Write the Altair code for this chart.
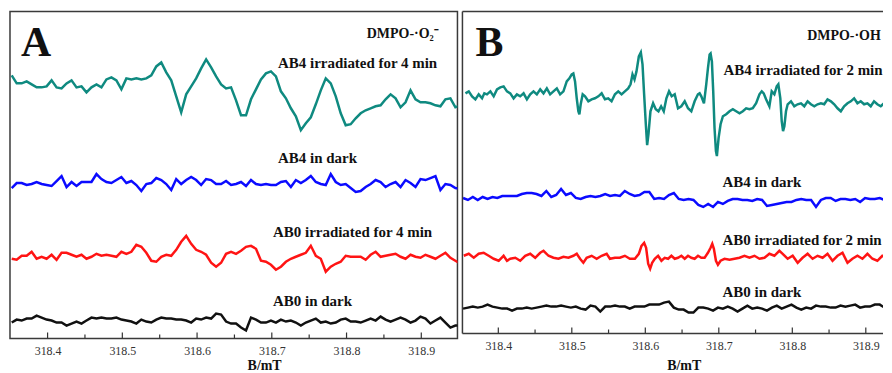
import altair as alt
import pandas as pd

# ---------------- sweep (magnetic field, mT) ----------------
FIELD_START = 318.352
FIELD_STEP = 0.00667

MAJOR_TICKS = [318.4, 318.5, 318.6, 318.7, 318.8, 318.9]
MINOR_TICKS = [318.45, 318.55, 318.65, 318.75, 318.85, 318.95]

TRACES = ["irradiated AB4", "AB4 dark", "irradiated AB0", "AB0 dark"]
TRACE_COLORS = ["#0f8a80", "#0b0bff", "#ff1414", "#111111"]

# ---------------- Panel A : DMPO-·O2- (intensity, a.u.) ----------------
A_AB4_IRR = [264, 256, 256, 258, 255, 252, 252, 253, 259, 252,
             251, 256, 259, 252, 253, 247, 252, 255, 252, 260,
             262, 259, 250, 261, 260, 261, 260, 261, 264, 273,
             277, 267, 259, 243, 227, 245, 253, 261, 271, 280,
             272, 263, 255, 251, 252, 239, 224, 224, 240, 250,
             260, 266, 268, 263, 248, 241, 231, 223, 209, 216,
             222, 235, 249, 261, 256, 243, 226, 214, 215, 221,
             226, 229, 231, 233, 234, 240, 245, 241, 232, 237,
             249, 240, 237, 237, 236, 234, 233, 240, 241, 232, 234]
A_AB4_DARK = [151, 156, 156, 154, 155, 157, 155, 154, 153, 158,
              163, 152, 157, 153, 157, 157, 157, 165, 160, 157,
              156, 159, 162, 156, 158, 154, 148, 155, 156, 161,
              159, 155, 149, 160, 155, 159, 162, 159, 154, 160,
              159, 155, 155, 158, 154, 155, 157, 153, 159, 155,
              154, 155, 154, 154, 157, 158, 152, 159, 156, 159,
              163, 157, 155, 154, 165, 157, 154, 155, 151, 147,
              148, 152, 155, 159, 157, 152, 155, 157, 152, 159,
              156, 152, 160, 159, 161, 163, 149, 155, 154, 151, 150]
A_AB0_IRR = [80, 79, 83, 83, 87, 80, 82, 80, 84, 79,
             86, 86, 84, 82, 84, 80, 82, 85, 83, 84,
             83, 82, 87, 85, 87, 94, 92, 86, 78, 77,
             82, 84, 83, 89, 97, 103, 95, 89, 87, 84,
             76, 72, 76, 85, 87, 85, 88, 92, 93, 90,
             78, 77, 74, 69, 72, 77, 80, 82, 84, 86,
             93, 83, 80, 67, 72, 75, 77, 83, 82, 82,
             82, 79, 84, 87, 82, 83, 84, 85, 82, 80,
             84, 82, 81, 84, 82, 80, 83, 86, 81, 78, 75]
A_AB0_DARK = [16, 19, 18, 20, 20, 23, 21, 19, 18, 16,
              16, 13, 15, 17, 15, 18, 21, 20, 21, 20,
              20, 21, 19, 18, 17, 15, 19, 17, 16, 19,
              21, 20, 20, 19, 19, 18, 16, 20, 19, 21,
              20, 25, 24, 17, 15, 15, 11, 8, 21, 19,
              16, 16, 18, 16, 19, 17, 18, 16, 13, 16,
              18, 20, 16, 17, 15, 16, 19, 20, 17, 17,
              16, 18, 20, 18, 22, 19, 17, 19, 21, 19,
              16, 18, 22, 20, 15, 18, 21, 16, 11, 13, 13]

# ---------------- Panel B : DMPO-·OH ----------------
B_AB4_IRR_FIELD = [
    318.3553, 318.3598, 318.3643, 318.3688, 318.3733, 318.3779, 318.3810, 318.3846, 318.3892, 318.3937,
    318.3982, 318.4027, 318.4072, 318.4118, 318.4163, 318.4208, 318.4253, 318.4298, 318.4344, 318.4389,
    318.4434, 318.4479, 318.4524, 318.4570, 318.4615, 318.4660, 318.4705, 318.4750, 318.4796, 318.4841, 318.4886,
    318.4931, 318.4967, 318.4999, 318.5021, 318.5044, 318.5067, 318.5089, 318.5103, 318.5121, 318.5148,
    318.5180, 318.5225, 318.5270, 318.5315, 318.5361, 318.5406, 318.5451, 318.5496, 318.5541, 318.5587,
    318.5632, 318.5677, 318.5722, 318.5767, 318.5799, 318.5826, 318.5853, 318.5880, 318.5912, 318.5939,
    318.5962, 318.5984, 318.6007, 318.6025, 318.6043, 318.6070, 318.6106, 318.6142, 318.6179, 318.6215,
    318.6251, 318.6287, 318.6323, 318.6359, 318.6400, 318.6445,
    318.6490, 318.6536, 318.6581, 318.6626, 318.6671, 318.6716, 318.6739, 318.6762, 318.6798, 318.6829,
    318.6852, 318.6875, 318.6888, 318.6906, 318.6924, 318.6942, 318.6961, 318.6974, 318.6997, 318.7024,
    318.7056, 318.7101, 318.7146, 318.7191, 318.7236, 318.7282, 318.7327, 318.7372, 318.7417, 318.7462,
    318.7508, 318.7553, 318.7584, 318.7611, 318.7643, 318.7688, 318.7720, 318.7756, 318.7788, 318.7810,
    318.7837, 318.7856, 318.7874, 318.7892, 318.7914, 318.7937, 318.7982, 318.8027, 318.8072, 318.8118,
    318.8163, 318.8208, 318.8253, 318.8299, 318.8344, 318.8389, 318.8434, 318.8479, 318.8525, 318.8570,
    318.8615, 318.8660, 318.8705, 318.8751, 318.8796, 318.8841, 318.8886, 318.8931, 318.8977, 318.9022,
    318.9067, 318.9112, 318.9157, 318.9203, 318.9248, 318.9293, 318.9338]
B_AB4_IRR = [
    241, 243, 238, 235, 240, 236, 241, 240, 243, 238,
    245, 247, 248, 243, 241, 236, 240, 238, 241, 235,
    240, 243, 240, 245, 241, 246, 240, 243, 246, 240, 243,
    253, 256, 260, 261, 253, 236, 223, 220, 230, 240,
    238, 233, 235, 236, 238, 241, 235, 236, 233, 240,
    243, 240, 243, 246, 250, 260, 255, 263, 278, 282,
    270, 240, 210, 189, 200, 223, 231, 225, 223, 228,
    223, 236, 243, 238, 240, 226,
    228, 233, 226, 223, 233, 240, 241, 238, 231, 250,
    266, 280, 281, 273, 243, 206, 183, 178, 196, 210,
    218, 220, 223, 225, 223, 221, 223, 226, 225, 226,
    231, 240, 243, 241, 235, 228, 243, 240, 248, 250,
    236, 213, 203, 208, 223, 230, 233, 228, 230, 231,
    228, 233, 230, 228, 230, 231, 230, 235, 233, 230,
    226, 223, 228, 231, 233, 236, 231, 233, 230, 231,
    228, 233, 230, 228, 231, 230, 228]
B_AB4_DARK = [136, 134, 137, 134, 137, 135, 137, 136, 138, 138,
              138, 138, 140, 141, 141, 140, 138, 143, 137, 139,
              145, 139, 141, 136, 135, 137, 138, 137, 138, 140,
              138, 139, 138, 143, 140, 138, 139, 142, 142, 135,
              136, 135, 139, 141, 135, 134, 135, 134, 129, 127,
              130, 127, 132, 130, 133, 135, 135, 134, 134, 133,
              135, 134, 128, 129, 130, 131, 132, 132, 134, 135,
              134, 134, 127, 134, 136, 136, 133, 135, 135, 134,
              135, 132, 136, 135, 135, 136, 134, 130]
B_AB0_IRR_FIELD = [
    318.3530, 318.3598, 318.3666, 318.3733, 318.3801, 318.3869, 318.3937, 318.4005, 318.4072, 318.4118,
    318.4163, 318.4231, 318.4298, 318.4366, 318.4434, 318.4502, 318.4570, 318.4615, 318.4683, 318.4750,
    318.4818, 318.4886, 318.4954, 318.5021, 318.5067, 318.5112, 318.5157, 318.5202, 318.5270, 318.5338,
    318.5406, 318.5474, 318.5519, 318.5587, 318.5654, 318.5722, 318.5790, 318.5858, 318.5912, 318.5948,
    318.5984, 318.6011, 318.6039, 318.6066, 318.6093, 318.6129, 318.6174, 318.6219, 318.6264, 318.6310,
    318.6355, 318.6400, 318.6445, 318.6491, 318.6536, 318.6581, 318.6626, 318.6671, 318.6717, 318.6762,
    318.6807, 318.6852, 318.6888, 318.6911, 318.6933, 318.6961, 318.6988, 318.7024, 318.7078, 318.7146,
    318.7214, 318.7282, 318.7349, 318.7417, 318.7485, 318.7553, 318.7621, 318.7688, 318.7756, 318.7824,
    318.7869, 318.7937, 318.8005, 318.8073, 318.8140, 318.8208, 318.8276, 318.8344, 318.8412, 318.8479,
    318.8547, 318.8615, 318.8683, 318.8751, 318.8818, 318.8886, 318.8954, 318.9022, 318.9090, 318.9157,
    318.9225, 318.9293]
B_AB0_IRR = [78, 80, 76, 80, 81, 78, 75, 73, 78, 73,
             75, 76, 73, 78, 80, 76, 81, 83, 78, 76,
             75, 77, 76, 78, 80, 75, 71, 76, 78, 75,
             78, 80, 75, 76, 76, 78, 75, 75, 80, 88,
             91, 86, 70, 65, 71, 75, 78, 73, 76, 75,
             78, 75, 76, 78, 75, 78, 76, 75, 78, 76,
             76, 81, 86, 90, 85, 73, 69, 73, 75, 74,
             75, 76, 78, 76, 78, 75, 76, 80, 78, 83,
             80, 75, 78, 71, 76, 80, 75, 78, 76, 80,
             73, 78, 81, 71, 75, 78, 75, 80, 75, 73,
             78, 76]
B_AB0_DARK = [25, 26, 27, 26, 27, 29, 27, 26, 25, 25,
              23, 25, 25, 26, 25, 26, 27, 28, 27, 27,
              28, 27, 26, 27, 25, 24, 28, 27, 22, 27,
              27, 28, 27, 27, 25, 27, 27, 27, 29, 29,
              29, 31, 32, 26, 24, 24, 21, 21, 26, 26,
              25, 23, 26, 25, 27, 25, 22, 25, 28, 25,
              26, 25, 23, 26, 28, 25, 27, 29, 26, 24,
              26, 25, 28, 27, 27, 26, 26, 28, 27, 28,
              29, 26, 27, 27, 29, 29, 26, 22]

# ---------------- annotations ----------------
A_LABELS = ["A", "DMPO-·O₂⁻", "AB4 irradiated for 4 min", "AB4 in dark",
            "AB0 irradiated for 4 min", "AB0 in dark"]
A_LABEL_FIELD = [318.3644, 318.8271, 318.7084, 318.7084, 318.7017, 318.7017]
A_LABEL_Y = [283, 302, 271, 176, 102, 33]
B_LABELS = ["B", "DMPO-·OH", "AB4 irradiated for 2 min", "AB4 in dark",
            "AB0 irradiated for 2 min", "AB0 in dark"]
B_LABEL_FIELD = [318.3688, 318.8203, 318.7064, 318.7051, 318.7051, 318.7051]
B_LABEL_Y = [278, 295, 259, 147, 89, 37]
LABEL_SIZE = [42, 14, 15, 15, 15, 15]

FONT = "Liberation Serif"
FRAME = "#3a3a3a"


def grid(n):
    return [round(FIELD_START + FIELD_STEP * i, 5) for i in range(n)]


def long_df(series):
    rows = []
    for name, fields, vals in series:
        assert len(fields) == len(vals), (name, len(fields), len(vals))
        for f, v in zip(fields, vals):
            rows.append({"field": f, "intensity": v, "trace": name})
    return pd.DataFrame(rows)


def panel(df, labels, lab_field, lab_y, domain, ymax, width, height, title_x, title_y,
          open_right):
    xaxis = alt.Axis(values=MAJOR_TICKS, format=".1f", ticks=False, tickSize=0,
                     domain=False, grid=False, labelFont=FONT, labelFontSize=12,
                     labelColor="#333333", labelPadding=7, labelFlush=False,
                     title="B/mT", titleFont=FONT, titleFontSize=14,
                     titleFontWeight="bold", titleColor="#111111",
                     titleX=title_x, titleY=title_y, titleAlign="center",
                     titleBaseline="top")
    xs = alt.Scale(domain=domain, nice=False, zero=False)
    ys = alt.Scale(domain=[0, ymax], nice=False, zero=False)
    X = alt.X("field:Q", scale=xs, axis=xaxis, title="B/mT")

    lines = alt.Chart(df).mark_line(strokeWidth=2.5, clip=True).encode(
        x=X,
        y=alt.Y("intensity:Q", scale=ys, axis=None),
        color=alt.Color("trace:N", scale=alt.Scale(domain=TRACES, range=TRACE_COLORS),
                        legend=None),
    )
    major = alt.Chart(pd.DataFrame({"field": MAJOR_TICKS})).mark_rule(
        color="#333333", strokeWidth=1.2, clip=True).encode(
        x=X, y=alt.value(height - 6), y2=alt.value(height))
    minor = alt.Chart(pd.DataFrame({"field": MINOR_TICKS})).mark_rule(
        color="#333333", strokeWidth=1.2, clip=True).encode(
        x=X, y=alt.value(height - 4), y2=alt.value(height))
    ann = pd.DataFrame({"field": lab_field, "intensity": lab_y,
                        "label": labels, "size": LABEL_SIZE})
    texts = alt.Chart(ann).mark_text(font=FONT, fontWeight="bold", align="left",
                                     baseline="alphabetic", color="#111111",
                                     clip=True).encode(
        x=X,
        y=alt.Y("intensity:Q", scale=ys, axis=None),
        text="label:N",
        size=alt.Size("size:Q", scale=None),
    )
    layers = [lines, major, minor, texts]
    if open_right:
        one = pd.DataFrame({"k": [0]})
        left = alt.Chart(one).mark_rule(color=FRAME, strokeWidth=1.5).encode(
            x=alt.value(0), y=alt.value(0), y2=alt.value(height))
        top = alt.Chart(one).mark_rule(color=FRAME, strokeWidth=1.5).encode(
            x=alt.value(0), x2=alt.value(width), y=alt.value(0))
        bottom = alt.Chart(one).mark_rule(color=FRAME, strokeWidth=1.5).encode(
            x=alt.value(0), x2=alt.value(width), y=alt.value(height))
        layers += [left, top, bottom]
        view = alt.ViewBackground(strokeOpacity=0)
    else:
        view = alt.ViewBackground(stroke=FRAME, strokeWidth=1.5)
    return alt.layer(*layers).properties(width=width, height=height, view=view)


df_a = long_df([
    (TRACES[0], grid(len(A_AB4_IRR)), A_AB4_IRR),
    (TRACES[1], grid(len(A_AB4_DARK)), A_AB4_DARK),
    (TRACES[2], grid(len(A_AB0_IRR)), A_AB0_IRR),
    (TRACES[3], grid(len(A_AB0_DARK)), A_AB0_DARK),
])
df_b = long_df([
    (TRACES[0], B_AB4_IRR_FIELD, B_AB4_IRR),
    (TRACES[1], grid(len(B_AB4_DARK)), B_AB4_DARK),
    (TRACES[2], B_AB0_IRR_FIELD, B_AB0_IRR),
    (TRACES[3], grid(len(B_AB0_DARK)), B_AB0_DARK),
])

panel_a = panel(df_a, A_LABELS, A_LABEL_FIELD, A_LABEL_Y, [318.3497, 318.9484], 328,
                449, 328, 255, 20, False)
panel_b = panel(df_b, B_LABELS, B_LABEL_FIELD, B_LABEL_Y, [318.3512, 318.9234], 323,
                422, 323, 222, 25, True)

chart = alt.hconcat(panel_a, panel_b, spacing=3).properties(
    padding={"left": 1, "top": 2, "right": 0, "bottom": 0},
    background="white",
)

chart.save("out.html", embed_options={"renderer": "svg", "actions": False})
